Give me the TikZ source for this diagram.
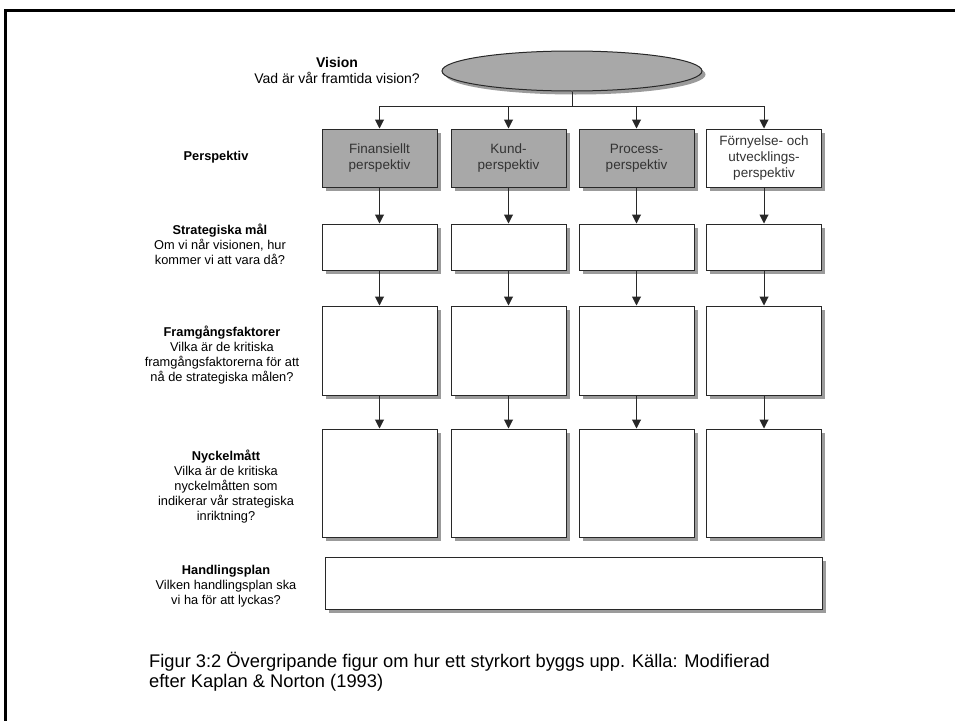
\documentclass[tikz,border=0pt]{standalone}
\usepackage{fontspec}
\setmainfont{Liberation Sans}
\usetikzlibrary{shapes.geometric,arrows.meta,shadows}
\definecolor{boxgray}{RGB}{168,168,168}
\definecolor{shadowgray}{RGB}{155,155,155}
\definecolor{linegray}{RGB}{40,40,40}
\begin{document}
\begin{tikzpicture}[x=1pt,y=-1pt,
  shad/.style={drop shadow={shadow xshift=3.5pt,shadow yshift=-3.5pt,fill=shadowgray,opacity=1}},
  box/.style={draw=linegray,line width=1pt,fill=white,minimum width=115pt,inner sep=0pt,shad},
  graybox/.style={box,fill=boxgray},
  arr/.style={draw=linegray,line width=1pt,-{Triangle[length=9pt,width=9pt]}},
  conn/.style={draw=linegray,line width=1pt},
  lbl/.style={align=center,font=\fontsize{12.8}{15}\selectfont,inner sep=0pt},
  ptext/.style={align=center,font=\fontsize{13.5}{16}\selectfont,text=black!80}
]
\useasboundingbox (0,0) rectangle (955,720);
\fill[white] (0,0) rectangle (955,720);
% frame
\draw[line width=3pt] (5,725) -- (5,10) -- (962,10);

% vision ellipse
\node[ellipse,draw=linegray,line width=1pt,fill=boxgray,minimum width=260pt,minimum height=40pt,shad] (vis) at (572,71) {};
\coordinate (hbar) at (572,106);

% perspective row
\node[graybox,minimum height=58pt,ptext] (p1) at (379.5,158) {Finansiellt\\perspektiv};
\node[graybox,minimum height=58pt,ptext] (p2) at (508.5,158) {Kund-\\perspektiv};
\node[graybox,minimum height=58pt,ptext] (p3) at (636.5,158) {Process-\\perspektiv};
\node[box,minimum height=58pt,ptext] (p4) at (764,158) {Förnyelse- och\\utvecklings-\\perspektiv};

% rows of empty boxes
\foreach \i/\x in {1/379.5,2/508.5,3/636.5,4/764}{
  \node[box,minimum height=46pt] (s\i) at (\x,247) {};
  \node[box,minimum height=89pt] (f\i) at (\x,350.5) {};
  \node[box,minimum height=108pt] (n\i) at (\x,483) {};
}
\node[box,minimum width=497pt,minimum height=52pt] (h) at (573.5,583) {};

% connectors
\draw[conn] (vis.south) -- (hbar);
\draw[conn] (p1.north |- hbar) -- (p4.north |- hbar);
\foreach \i in {1,2,3,4}{
  \draw[arr] (p\i.north |- hbar) -- (p\i.north);
  \draw[arr] (p\i) -- (s\i);
  \draw[arr] (s\i) -- (f\i);
  \draw[arr] (f\i) -- (n\i);
}

% labels
\node[lbl,font=\fontsize{14}{16}\selectfont] (lvis) at (337,70) {\textbf{Vision}\\Vad är vår framtida vision?};
\node[lbl] (lper) at (216,157) {\textbf{Perspektiv}};
\node[lbl] (lstr) at (220,244) {\textbf{Strategiska mål}\\Om vi når visionen, hur\\kommer vi att vara då?};
\node[lbl] (lfr) at (222,355) {\textbf{Framgångsfaktorer}\\Vilka är de kritiska\\framgångsfaktorerna för att\\nå de strategiska målen?};
\node[lbl] (lny) at (226,487) {\textbf{Nyckelmått}\\Vilka är de kritiska\\nyckelmåtten som\\indikerar vår strategiska\\inriktning?};
\node[lbl] (lha) at (226,586) {\textbf{Handlingsplan}\\Vilken handlingsplan ska\\vi ha för att lyckas?};

% caption
\node[anchor=north west,align=left,font=\fontsize{18.3}{19.5}\selectfont,inner sep=0pt] (cap) at (149,652) {Figur 3:2 Övergripande figur om hur ett styrkort byggs upp. Källa: Modifierad\\efter Kaplan \& Norton (1993)};
\end{tikzpicture}
\end{document}
